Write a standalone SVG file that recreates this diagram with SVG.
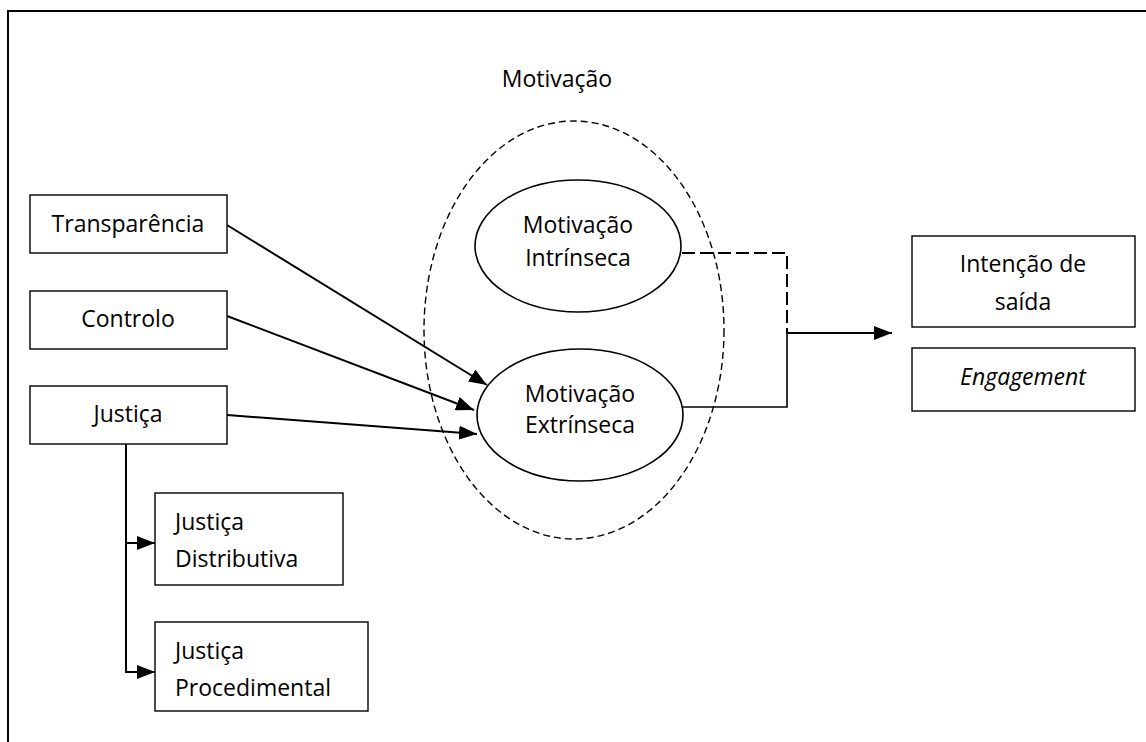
<svg xmlns="http://www.w3.org/2000/svg" width="1146" height="742" viewBox="0 0 1146 742">
<style>
.box{fill:#fff;stroke:#000;stroke-width:1.4}
.ell{fill:#fff;stroke:#000;stroke-width:1.6}
.t{font-family:"Open Sans","Liberation Sans",sans-serif;font-size:23px;fill:#000}
.c{text-anchor:middle}
.ln{fill:none;stroke:#000;stroke-width:2}
.dash{fill:none;stroke:#000;stroke-width:2;stroke-dasharray:13,5}
</style>
<defs>
<marker id="ah" viewBox="0 0 18 14" refX="18" refY="7" markerWidth="18" markerHeight="14" markerUnits="userSpaceOnUse" orient="auto">
<path d="M0,0 L18,7 L0,14 z" fill="#000"/>
</marker>
</defs>
<rect width="1146" height="742" fill="#fff"/>
<path d="M8,742 L8,11 L1146,11" fill="none" stroke="#000" stroke-width="2"/>

<g id="motivacao-group">
<ellipse cx="574" cy="330" rx="150" ry="209" fill="none" stroke="#000" stroke-width="1.4" stroke-dasharray="7,4"/>
<text class="t c" x="557" y="87">Motivação</text>
</g>

<g id="connectors">
<line class="ln" x1="227" y1="225" x2="487" y2="385" marker-end="url(#ah)"/>
<line class="ln" x1="227" y1="316" x2="474" y2="410" marker-end="url(#ah)"/>
<line class="ln" x1="227" y1="415" x2="477" y2="434" marker-end="url(#ah)"/>
<path class="ln" d="M126,444 L126,672"/>
<line class="ln" x1="125" y1="543" x2="155" y2="543" marker-end="url(#ah)"/>
<line class="ln" x1="125" y1="672" x2="155" y2="672" marker-end="url(#ah)"/>
<path class="ln" d="M683,407 L787,407 L787,333" style="stroke-width:1.6"/>
<path class="dash" d="M682,253 L787,253 L787,333"/>
<line class="ln" x1="787" y1="333" x2="892" y2="333" marker-end="url(#ah)"/>
</g>

<g id="transparencia">
<rect class="box" x="30" y="195" width="197" height="58"/>
<text class="t c" x="128" y="232">Transparência</text>
</g>
<g id="controlo">
<rect class="box" x="30" y="291" width="197" height="58"/>
<text class="t c" x="128" y="327">Controlo</text>
</g>
<g id="justica">
<rect class="box" x="30" y="386" width="197" height="58"/>
<text class="t c" x="128" y="422">Justiça</text>
</g>
<g id="justica-distributiva">
<rect class="box" x="155" y="493" width="188" height="92"/>
<text class="t" x="175" y="530">Justiça</text>
<text class="t" x="175" y="567">Distributiva</text>
</g>
<g id="justica-procedimental">
<rect class="box" x="155" y="622" width="213" height="89"/>
<text class="t" x="175" y="659">Justiça</text>
<text class="t" x="175" y="696">Procedimental</text>
</g>
<g id="motivacao-intrinseca">
<ellipse class="ell" cx="578" cy="246" rx="103" ry="66"/>
<text class="t c" x="578" y="233">Motivação</text>
<text class="t c" x="578" y="266">Intrínseca</text>
</g>
<g id="motivacao-extrinseca">
<ellipse class="ell" cx="580" cy="415" rx="103" ry="66"/>
<text class="t c" x="580" y="402">Motivação</text>
<text class="t c" x="580" y="433">Extrínseca</text>
</g>
<g id="intencao-saida">
<rect class="box" x="912" y="236" width="223" height="91"/>
<text class="t c" x="1023" y="272">Intenção de</text>
<text class="t c" x="1023" y="310">saída</text>
</g>
<g id="engagement">
<rect class="box" x="912" y="348" width="223" height="63"/>
<text class="t c" x="1023" y="385" font-style="italic">Engagement</text>
</g>
</svg>
